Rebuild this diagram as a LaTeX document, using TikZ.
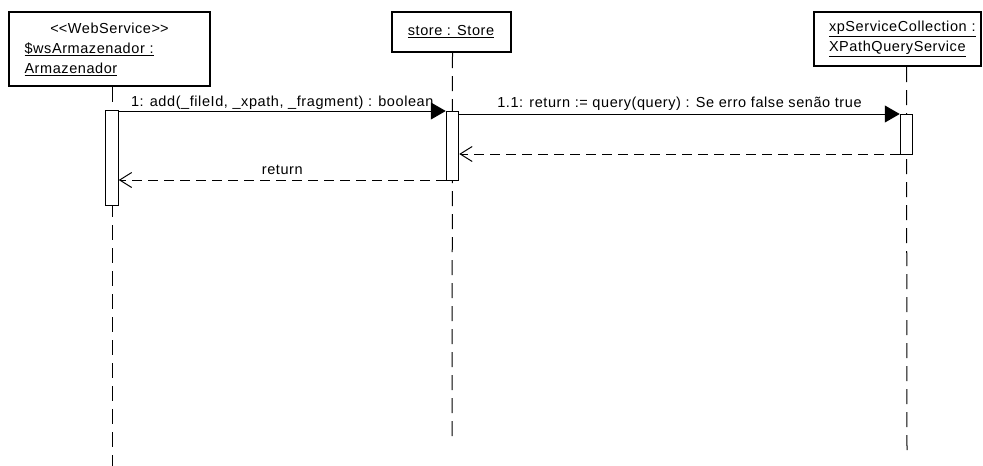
\documentclass[tikz,border=0pt]{standalone}
\usepackage{fontspec}
\setmainfont{Liberation Sans}[LetterSpace=4]
\usetikzlibrary{arrows.meta}

\begin{document}
\begin{tikzpicture}[x=1pt, y=-1pt,
  font=\fontsize{14.5}{20}\selectfont,
  object/.style={draw, line width=2pt, inner ysep=0pt},
  actbar/.style={draw, fill=white, line width=1pt, inner sep=0pt, minimum width=12.5},
  life/.style={line width=1pt, dash pattern=on 15pt off 8pt},
  call/.style={line width=1pt, -{Triangle[length=15pt,width=17pt]}},
  reply/.style={line width=1pt, dash pattern=on 10pt off 6pt,
                -{Straight Barb[length=12pt,width=15pt,line width=1pt]}},
  msg/.style={midway, anchor=base, inner sep=0pt}]

\useasboundingbox (0,0) rectangle (983,466);

% participants
\node[object, minimum width=201, minimum height=74, text width=170pt,
      inner xsep=15.5pt, align=left] (boxA) at (109.5,49)
  {\makebox[170pt][c]{<\kern0pt<WebService>\kern0pt>}\\
   \underline{\$wsArmazenador :}\\
   \underline{Armazenador}};
\node[object, minimum width=119, minimum height=40, inner xsep=0pt] (boxB) at (451,32)
  {\underline{store : Store}};
\node[object, minimum width=167, minimum height=54, text width=137pt,
      inner xsep=15pt, align=left] (boxC) at (897.5,39)
  {\underline{xpServiceCollection :}\\
   \underline{XPathQueryService}};

% ends of the lifelines
\coordinate (endA) at (112,466);
\coordinate (endB) at (452,439);
\coordinate (endC) at (907,453);

% activation bar centres (bars are drawn after the lifelines)
\path (112,157.5) coordinate (pA) (452.5,145.5) coordinate (pB) (906.5,134) coordinate (pC);

% lifelines
\draw[life] (boxA.south -| pA) -- (endA);
\draw[life] (boxB.south -| pB) -- (endB);
\draw[life] (boxC.south -| pC) -- (endC);

\node[actbar, minimum height=95] (actA) at (pA) {};
\node[actbar, minimum height=69] (actB) at (pB) {};
\node[actbar, minimum height=40] (actC) at (pC) {};

% message rows
\coordinate (m1) at (0,111);
\coordinate (m2) at (0,114);
\coordinate (m3) at (0,154);
\coordinate (m4) at (0,180);

\draw[call] (actA.east |- m1) -- node[msg, yshift=4.5pt]
  {1: add(\_fileId, \_xpath, \_fragment) : boolean} (actB.west |- m1);
\draw[call] (actB.east |- m2) -- node[msg, yshift=6.5pt]
  {1.1: return := query(query) : Se erro false senão true} (actC.west |- m2);
\draw[reply] (actC.west |- m3) -- (actB.east |- m3);
\draw[reply] (actB.west |- m4) -- node[msg, yshift=6pt] {return} (actA.east |- m4);

\end{tikzpicture}
\end{document}
